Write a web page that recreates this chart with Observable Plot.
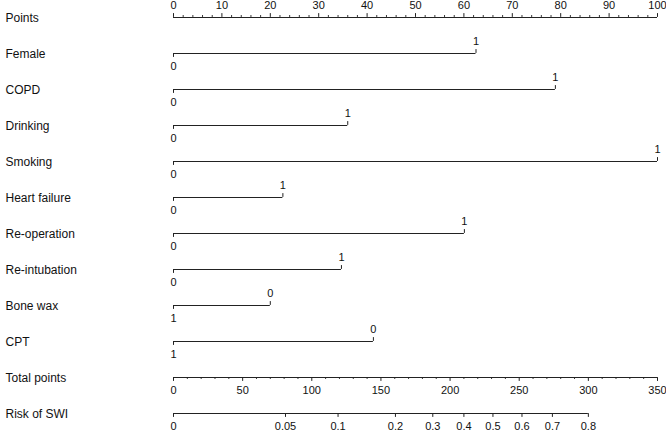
<!DOCTYPE html>
<html>
<head>
<meta charset="utf-8">
<script src="https://cdn.jsdelivr.net/npm/d3@7"></script>
<script src="https://cdn.jsdelivr.net/npm/@observablehq/plot@0.6"></script>
<style>
  html, body { margin: 0; padding: 0; background: #fff; }
  svg { display: block; }
</style>
</head>
<body>
<div id="chart"></div>
<script>
// ---- data ----
const rowNames = ["Points","Female","COPD","Drinking","Smoking","Heart failure","Re-operation","Re-intubation","Bone wax","CPT","Total points","Risk of SWI"];
const variables = ["Female","COPD","Drinking","Smoking","Heart failure","Re-operation","Re-intubation","Bone wax","CPT"];
const lowLabels  = ["0","0","0","0","0","0","0","1","1"];
const highLabels = ["1","1","1","1","1","1","1","0","0"];
const highPoints = [62.5, 78.9, 36.0, 100, 22.6, 60.1, 34.7, 20.0, 41.3];
const pointLabels = [0,10,20,30,40,50,60,70,80,90,100];
const pointMinor = [2,4,6,8,12,14,16,18,22,24,26,28,32,34,36,38,42,44,46,48,52,54,56,58,62,64,66,68,72,74,76,78,82,84,86,88,92,94,96,98];
const totalMax = 350;
const totalLabels = [0,50,100,150,200,250,300,350];
const totalMinor = [10,20,30,40,60,70,80,90,110,120,130,140,160,170,180,190,210,220,230,240,260,270,280,290,310,320,330,340];
const riskLabels = ["0","0.05","0.1","0.2","0.3","0.4","0.5","0.6","0.7","0.8"];
const riskTotalPos = [0, 81, 119, 160.5, 187.5, 210, 231, 252, 274, 300];

// ---- derived tables ----
const toPts = tp => tp * 100 / totalMax;
const segs = [
  {row: "Points", x1: 0, x2: 100},
  ...variables.map((v, i) => ({row: v, x1: 0, x2: highPoints[i]})),
  {row: "Total points", x1: 0, x2: 100},
  {row: "Risk of SWI", x1: 0, x2: toPts(riskTotalPos[riskTotalPos.length - 1])}
];
const upMajor = [
  ...pointLabels.map(p => ({row: "Points", x: p})),
  ...variables.map((v, i) => ({row: v, x: highPoints[i]}))
];
const upMinor = pointMinor.map(p => ({row: "Points", x: p}));
const downMajor = [
  ...variables.map(v => ({row: v, x: 0})),
  ...totalLabels.map(t => ({row: "Total points", x: toPts(t)})),
  ...riskTotalPos.map(t => ({row: "Risk of SWI", x: toPts(t)}))
];
const downMinor = totalMinor.map(t => ({row: "Total points", x: toPts(t)}));
const aboveText = [
  ...pointLabels.map(p => ({row: "Points", x: p, t: String(p)})),
  ...variables.map((v, i) => ({row: v, x: highPoints[i], t: highLabels[i]}))
];
const belowText = [
  ...variables.map((v, i) => ({row: v, x: 0, t: lowLabels[i]})),
  ...totalLabels.map(t => ({row: "Total points", x: toPts(t), t: String(t)})),
  ...riskTotalPos.map((t, i) => ({row: "Risk of SWI", x: toPts(t), t: riskLabels[i]}))
];

const W = 666, H = 434;
const rowTop = 16, step = 36.2;
const half = step / 2;
const ink = "#222";
const font = "Liberation Sans, Arial, Helvetica, sans-serif";

const chart = Plot.plot({
  width: W,
  height: H,
  margin: 0,
  style: {fontFamily: font, background: "#fff", color: "#111"},
  x: {domain: [0, 100], range: [173, 657], axis: null},
  y: {type: "band", domain: rowNames, range: [rowTop - half, rowTop + step * (rowNames.length - 1) + half], padding: 0, axis: null},
  marks: [
    Plot.ruleY(segs, {y: "row", x1: "x1", x2: "x2", stroke: ink, strokeWidth: 1}),
    Plot.tickX(upMajor, {x: "x", y: "row", stroke: ink, insetTop: half - 4, insetBottom: half}),
    Plot.tickX(upMinor, {x: "x", y: "row", stroke: ink, insetTop: half - 2, insetBottom: half}),
    Plot.tickX(downMajor, {x: "x", y: "row", stroke: ink, insetTop: half, insetBottom: half - 4}),
    Plot.tickX(downMinor, {x: "x", y: "row", stroke: ink, insetTop: half, insetBottom: half - 2}),
    Plot.text(rowNames, {y: d => d, text: d => d, frameAnchor: "left", dx: 5, dy: 1, textAnchor: "start", fontSize: 12, fill: "#111"}),
    Plot.text(aboveText, {x: "x", y: "row", text: "t", dy: -12, fontSize: 11, fill: "#111"}),
    Plot.text(belowText, {x: "x", y: "row", text: "t", dy: 13, fontSize: 11, fill: "#111"})
  ]
});
document.getElementById("chart").appendChild(chart);
</script>
</body>
</html>
